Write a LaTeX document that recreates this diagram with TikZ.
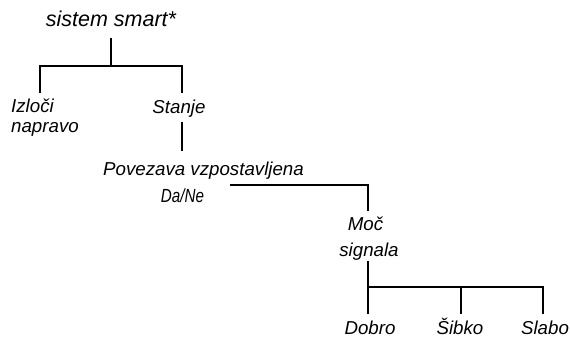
\documentclass[tikz,border=0pt]{standalone}
\usepackage{graphicx}
\usepackage{fontspec}
\setmainfont{Liberation Sans}
\begin{document}
\begin{tikzpicture}[x=1pt,y=-1pt,
  lbl/.style={inner sep=0pt,anchor=base,font=\fontsize{18.7}{18}\selectfont\itshape},
  ttl/.style={inner sep=0pt,anchor=base,font=\fontsize{21.5}{22}\selectfont\itshape},
  sml/.style={inner sep=0pt,anchor=base,font=\fontsize{19}{19}\selectfont\itshape},
  edge/.style={line width=1.7pt,line cap=rect}]
\useasboundingbox (0,0) rectangle (570,337);
% texts
\node[ttl] (root) at (111,27) {sistem smart*};
\node[lbl,anchor=base west] (izl1) at (11,112) {Izloči};
\node[lbl,anchor=base west] (izl2) at (11,132) {napravo};
\node[lbl] (stanje) at (179,113) {Stanje};
\node[lbl] (pov) at (203.5,175) {Povezava vzpostavljena};
\node[sml] (dane) at (182.5,202) {\scalebox{0.8}[1]{Da/Ne}};
\node[lbl] (moc) at (365.5,230) {Moč};
\node[lbl] (sig) at (369,256) {signala};
\node[lbl] (dobro) at (370,334) {Dobro};
\node[lbl] (sibko) at (460,334) {Šibko};
\node[lbl] (slabo) at (545,334) {Slabo};
% junction coordinates
\coordinate (r0) at (111,39);
\coordinate (r1) at (111,66);
\coordinate (hl) at (40,66);
\coordinate (hr) at (182,66);
\coordinate (izlt) at (40,92);
\coordinate (stt) at (182,92);
\coordinate (stb) at (182,123);
\coordinate (povt) at (182,150);
\coordinate (p0) at (231,185);
\coordinate (p1) at (368,185);
\coordinate (moct) at (368,210);
\coordinate (sigb) at (368,262);
\coordinate (s1) at (368,287);
\coordinate (s2) at (461,287);
\coordinate (s3) at (543,287);
\coordinate (dobt) at (368,313);
\coordinate (sibt) at (461,313);
\coordinate (slat) at (543,313);
% connectors
\draw[edge] (r0) -- (r1);
\draw[edge] (izlt) -- (hl) -- (hr) -- (stt);
\draw[edge] (stb) -- (povt);
\draw[edge] (p0) -- (p1) -- (moct);
\draw[edge] (sigb) -- (dobt);
\draw[edge] (s1) -- (s3) -- (slat);
\draw[edge] (s2) -- (sibt);
\end{tikzpicture}
\end{document}
